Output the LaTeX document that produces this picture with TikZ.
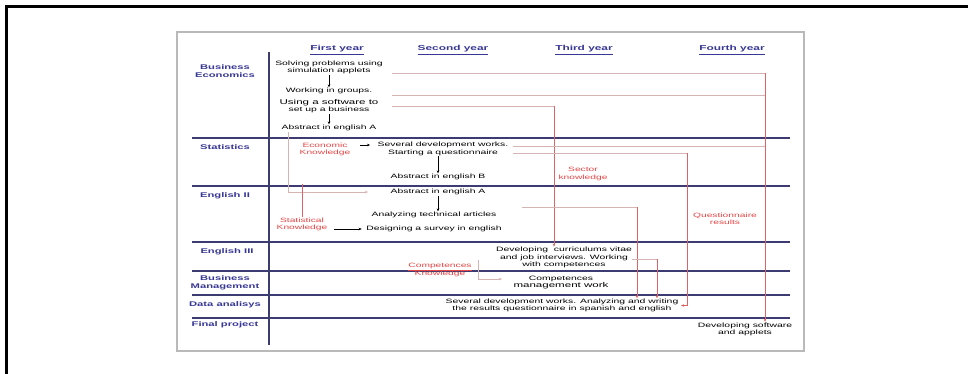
\documentclass[tikz,border=0pt]{standalone}
\usepackage{fontspec}
\setmainfont{Liberation Sans}[FakeStretch=1.65]
\usetikzlibrary{arrows.meta}
\definecolor{lblue}{RGB}{55,55,150}
\definecolor{rowline}{RGB}{60,60,115}
\definecolor{rtxt}{RGB}{230,70,70}
\definecolor{conn}{RGB}{220,100,100}
\definecolor{connl}{RGB}{215,180,180}
\begin{document}
\begin{tikzpicture}[x=1pt,y=-1pt,
  every node/.style={inner sep=0.5pt,align=center},
  body/.style={font=\fontsize{6.3}{7.2}\selectfont,text=black},
  lab/.style={font=\bfseries\fontsize{6.8}{8}\selectfont,text=lblue},
  yr/.style={font=\bfseries\fontsize{7.2}{8}\selectfont,text=lblue},
  rlab/.style={font=\fontsize{6.2}{7.2}\selectfont,text=rtxt},
  row/.style={draw=rowline,line width=1.1pt},
  arr/.style={-{Stealth[length=3pt,width=2.6pt]},line width=0.5pt},
  cn/.style={draw=conn,line width=0.6pt},
  cnl/.style={draw=connl,line width=0.9pt},
]
\useasboundingbox (0,0) rectangle (968,374);
\fill[white] (0,0) rectangle (968,374);
% outer frame
\draw[line width=2.2pt,line join=miter] (6.5,374) -- (6.5,6.5) -- (968,6.5);
% inner gray frame
\draw[gray!55,line width=1.4pt] (177,32) rectangle (804,351);

% row lines
\foreach \yy in {138,186,242,271,295,318}
  \draw[row] (192,\yy) -- (790,\yy);
\draw[rowline,line width=1.5pt] (269,52) -- (269,345);

% year headings
\node[yr] (y1) at (337,50) {\underline{First year}};
\node[yr] (y2) at (453,50) {\underline{Second year}};
\node[yr] (y3) at (584,50) {\underline{Third year}};
\node[yr] (y4) at (732,50) {\underline{Fourth year}};

% row labels
\node[lab] (lbe) at (225,71) {Business\\Economics};
\node[lab] (lst) at (225,147) {Statistics};
\node[lab] (le2) at (225,196) {English II};
\node[lab] (le3) at (227,252) {English III};
\node[lab] (lbm) at (225,282.5) {Business\\Management};
\node[lab] (lda) at (225,305) {Data analisys};
\node[lab] (lfp) at (225,325) {Final project};

% Business Economics
\node[body] (s1) at (329,67.5) {Solving problems using\\simulation applets};
\node[body] (s2) at (329,91) {Working in groups.};
\node[body] (s3) at (329,106.5) {{\fontsize{7}{7.8}\selectfont Using a software to}\\set up a business};
\node[body] (s4) at (329,128) {Abstract in english A};
\draw[arr] (s1) -- (s2);
\draw[arr] (s3) -- (s4);

% Statistics
\node[rlab] (ek) at (325,149) {Economic\\Knowledge};
\node[body] (st1) at (443,145) {Several development works.};
\node[body] (st2) at (443,152.5) {Starting a questionnaire};
\node[body] (st3) at (438,177) {Abstract in english B};
\draw[arr] ([xshift=9pt]ek.east |- st1.west) -- ([xshift=-7pt]st1.west);
\draw[arr] (st2.south -| st3) -- (st3);
\node[rlab] (sek) at (583,174) {Sector\\knowledge};

% English II
\node[body] (e1) at (438,192) {Abstract in english A};
\node[body] (e2) at (434,215) {Analyzing technical articles};
\node[rlab] (sk) at (302,224) {Statistical\\Knowledge};
\node[body] (e3) at (434,229) {Designing a survey in english};
\draw[arr] (e1) -- (e1 |- e2.north);
\draw[arr] ([xshift=6pt]sk.east |- e3.west) -- ([xshift=-4pt]e3.west);
\draw[cnl,arr] ([xshift=7pt]s4.south west) coordinate (k1) |- ([xshift=-22pt]e1.west);
\draw[cn] (sk.north) -- ++(0,-33) coordinate (k2);
\node[rlab] (qr) at (725,219) {Questionnaire\\results};

% English III
\node[body] (dv) at (564,257.5) {Developing\ \ curriculums vitae\\and job interviews. Working\\with competences};
\node[rlab] (ck) at (440,270) {\underline{Competences}\\Knowledge};

% Business Management
\node[body] (cm) at (561,282.5) {Competences\\{\fontsize{7}{7.8}\selectfont management work}};
\coordinate (b1) at (478,260);
\coordinate (b2) at (478,279);
\draw[cnl] (b1) -- (b2);
\draw[cnl,arr] (b2) -- (b2 -| 502,0) coordinate (b3);

% Data analysis
\node[body] (da) at (562,305.5) {Several development works. Analyzing and writing\\the results questionnaire in spanish and english};

% Final project
\node[body] (fp) at (745,329) {Developing software\\and applets};

% long connectors
\coordinate (p1) at (392,73);
\coordinate (p1r) at (765,73);
\draw[cnl] (p1) -- (p1r);
\draw[cn,arr] (p1r) -- (p1r |- fp.north);
\coordinate (p2) at (392,95);
\draw[cnl] (p2) -- (p2 -| p1r);
\coordinate (p3) at (392,106);
\coordinate (p3r) at (554,106);
\draw[cnl] (p3) -- (p3r);
\draw[cn,arr] (p3r) -- (p3r |- dv.north);
\coordinate (p4) at (513,146);
\draw[cnl] (p4) -- (p4 -| p1r);
\coordinate (p5) at (513,153);
\coordinate (p5r) at (687,153);
\draw[cnl] (p5) -- (p5r);
\draw[cn,arr] (p5r) |- ([xshift=2pt]da.east);
\coordinate (p6) at (522,207);
\coordinate (p6r) at (637,207);
\draw[cnl] (p6) -- (p6r);
\draw[cn,arr] (p6r) -- (p6r |- da.north);
\coordinate (p7) at (632,259);
\coordinate (p7r) at (657,259);
\draw[cnl] (p7) -- (p7r);
\draw[cn,arr] (p7r) -- (p7r |- da.north);
\end{tikzpicture}
\end{document}
